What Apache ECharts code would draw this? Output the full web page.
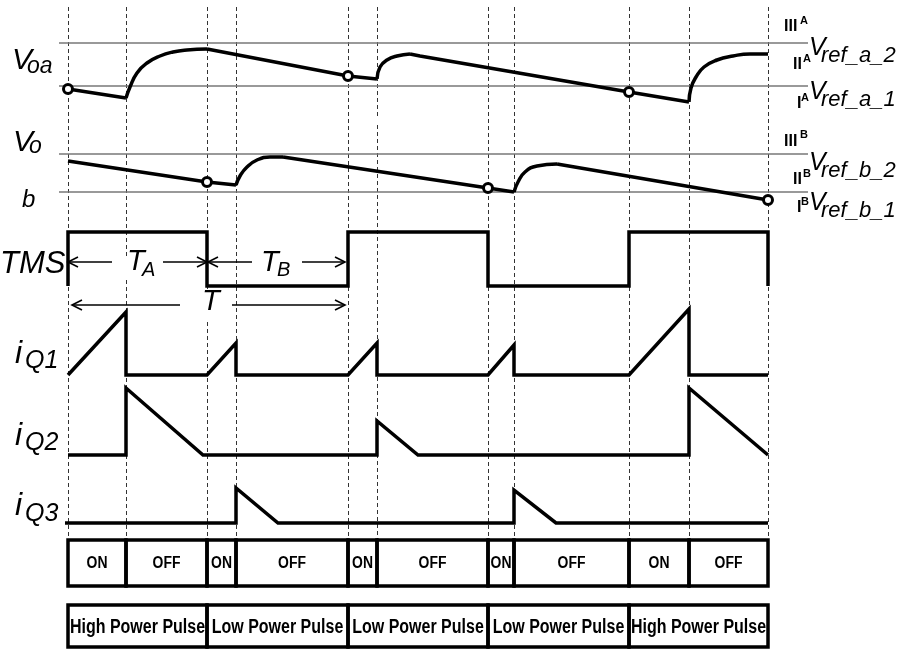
<!DOCTYPE html>
<html>
<head>
<meta charset="utf-8">
<title>TMS timing diagram</title>
<script src="https://cdn.jsdelivr.net/npm/echarts@6/dist/echarts.min.js"></script>
<style>
	html, body { margin:0; padding:0; background:#fff; }
	#chart { width:901px; height:650px; }
</style>
</head>
<body>
<div id="chart"></div>
<script>
// switching instants (time axis, same scale as the picture)
var edges = [68, 126, 207, 236, 348, 377, 488, 514, 629, 689, 768];
var switchStates = ['ON', 'OFF', 'ON', 'OFF', 'ON', 'OFF', 'ON', 'OFF', 'ON', 'OFF'];
var pulseEdges = [68, 207, 348, 488, 629, 768];
var pulseNames = ['High Power Pulse', 'Low Power Pulse', 'Low Power Pulse', 'Low Power Pulse', 'High Power Pulse'];

// reference voltage levels: Vref_a_2, Vref_a_1, Vref_b_2, Vref_b_1
var refLevels = [43, 86, 154, 192];
var refSpan = [59, 808];

// output voltages, [t, level] (level axis points down); decay = straight, charge = curved
var voaDecay = [
	[[68,89],[126,98]],
	[[207,49],[348,76],[377,79]],
	[[410,54],[420,56],[629,92],[689,102]]
];
var voaCharge = [
	[[126,98],[130,87],[137,73],[147,63],[160,56],[173,52],[187,50],[207,49]],
	[[377,79],[380,67],[387,60],[397,56],[410,54]],
	[[689,102],[691,88],[696,77],[704,67],[717,60],[733,56],[750,54],[768,54]]
];
var vobDecay = [
	[[68,161],[207,182],[236,185]],
	[[283,157],[488,188],[514,192]],
	[[557,164],[768,200]]
];
var vobCharge = [
	[[236,185],[240,176],[247,167],[257,160],[270,157],[283,157]],
	[[514,192],[518,182],[525,172],[537,166],[557,164]]
];
var voaMarks = [[68,89],[348,76],[629,92]];
var vobMarks = [[207,182],[488,188],[768,200]];

// gate signal and switch currents
var tms = [[68,286],[68,232],[207,232],[207,286],[348,286],[348,232],[488,232],[488,286],
	[629,286],[629,232],[768,232],[768,286]];
var iq1 = [[68,375],[126,312],[126,375],[207,375],[236,343],[236,375],[348,375],[377,343],[377,375],
	[488,375],[514,345],[514,375],[629,375],[689,309],[689,375],[768,375]];
var iq2 = [[68,455],[126,455],[126,388],[203,455],[377,455],[377,421],[418,455],[689,455],[689,388],[768,455]];
var iq3 = [[65,523],[236,523],[236,488],[278,523],[514,523],[514,490],[556,523],[768,523]];

// period arrows [from, to(head), level]
var arrows = [[112,68,262],[163,207,262],[252,208,262],[302,345,262],[180,72,305],[232,345,305]];

var FONT = '"Liberation Sans", Arial, sans-serif';

// dashed guide lines, with the small breaks where labels sit
var gaps = { 126: [257, 280], 207: [289, 322], 377: [116, 125] };
var guides = [];
edges.forEach(function (t) {
	if (gaps[t]) {
		guides.push([t, 7, gaps[t][0]]);
		guides.push([t, gaps[t][1], 539]);
	} else {
		guides.push([t, 7, 539]);
	}
});

function pairs(list) {
	var out = [];
	for (var i = 0; i < list.length - 1; i++) out.push([list[i], list[i + 1]]);
	return out;
}

function wave(data, smooth) {
	return {
		type: 'line', data: data, symbol: 'none', silent: true, z: 3,
		smooth: smooth || false,
		lineStyle: { color: '#000', width: 3.5, join: 'miter', cap: 'butt' }
	};
}

function boxes(names, top, bottom, size, squeeze) {
	return function (params, api) {
		var a = api.coord([api.value(0), top]);
		var b = api.coord([api.value(1), bottom]);
		return {
			type: 'group',
			children: [{
				type: 'rect',
				shape: { x: a[0], y: a[1], width: b[0] - a[0], height: b[1] - a[1] },
				style: { fill: 'none', stroke: '#000', lineWidth: 3.5 }
			}, {
				type: 'text',
				x: (a[0] + b[0]) / 2, y: (a[1] + b[1]) / 2 + 1, scaleX: squeeze,
				style: {
					text: names[params.dataIndex], font: 'bold ' + size + 'px ' + FONT, fill: '#000',
					align: 'center', verticalAlign: 'middle', textAlign: 'center', textVerticalAlign: 'middle'
				}
			}]
		};
	};
}

function label(x, y, text, font) {
	return {
		type: 'text', x: x, y: y, silent: true,
		style: {
			text: text, font: font, fill: '#000',
			align: 'left', verticalAlign: 'middle', textAlign: 'left', textVerticalAlign: 'middle'
		}
	};
}
function it(n) { return 'italic ' + n + 'px ' + FONT; }
function bd(n) { return 'bold ' + n + 'px ' + FONT; }

var labels = [
	label(12, 61, 'V', it(30)), label(27, 67, 'oa', it(23)),
	label(13, 143, 'V', it(30)), label(29, 147, 'o', it(23)),
	label(22, 200, 'b', it(24)),
	label(0, 264, 'TMS', it(31)),
	label(127, 262, 'T', it(29)), label(142, 270, 'A', it(20)),
	label(261, 263, 'T', it(29)), label(277, 270, 'B', it(20)),
	label(202, 302, 'T', it(29)),
	label(15, 354, 'i', it(32)), label(25, 361, 'Q1', it(25)),
	label(15, 436, 'i', it(32)), label(25, 443, 'Q2', it(25)),
	label(15, 506, 'i', it(32)), label(25, 514, 'Q3', it(25)),

	label(784, 27, 'III', bd(16)), label(800, 21, 'A', bd(11)),
	label(793, 65, 'II', bd(16)), label(803, 59, 'A', bd(11)),
	label(797, 104, 'I', bd(16)), label(801, 98, 'A', bd(11)),
	label(784, 142, 'III', bd(16)), label(800, 135, 'B', bd(11)),
	label(793, 180, 'II', bd(16)), label(803, 174, 'B', bd(11)),
	label(797, 208, 'I', bd(16)), label(801, 202, 'B', bd(11)),

	label(809, 48, 'V', it(25)), label(821, 56, 'ref_a_2', it(22)),
	label(809, 92, 'V', it(25)), label(821, 100, 'ref_a_1', it(22)),
	label(809, 163, 'V', it(25)), label(821, 171, 'ref_b_2', it(22)),
	label(809, 203, 'V', it(25)), label(821, 211, 'ref_b_1', it(22))
];

var waveSeries = [];
voaDecay.concat(vobDecay).forEach(function (d) { waveSeries.push(wave(d)); });
voaCharge.concat(vobCharge).forEach(function (d) { waveSeries.push(wave(d, 0.5)); });
[tms, iq1, iq2, iq3].forEach(function (d) { waveSeries.push(wave(d)); });

var chart = echarts.init(document.getElementById('chart'));
var option = {
	animation: false,
	backgroundColor: '#fff',
	grid: { left: 0, right: 0, top: 0, bottom: 0 },
	xAxis: { type: 'value', min: 0, max: 901, show: false },
	yAxis: { type: 'value', min: 0, max: 650, inverse: true, show: false },
	graphic: labels,
	series: [
		{
			// dashed switching guides
			type: 'custom', data: guides, silent: true, z: 1, encode: { x: 0, y: [1, 2] },
			renderItem: function (params, api) {
				var p0 = api.coord([api.value(0), api.value(1)]);
				var p1 = api.coord([api.value(0), api.value(2)]);
				var x = Math.round(p0[0]) + 0.5;
				return {
					type: 'line',
					shape: { x1: x, y1: p0[1], x2: x, y2: p1[1] },
					style: { stroke: '#333', lineWidth: 1, lineDash: [4, 3] }
				};
			}
		},
		{
			// reference levels
			type: 'custom', data: refLevels.map(function (v) { return [refSpan[0], refSpan[1], v]; }),
			silent: true, z: 2, encode: { x: [0, 1], y: 2 },
			renderItem: function (params, api) {
				var p0 = api.coord([api.value(0), api.value(2)]);
				var p1 = api.coord([api.value(1), api.value(2)]);
				return {
					type: 'line',
					shape: { x1: p0[0], y1: p0[1], x2: p1[0], y2: p1[1] },
					style: { stroke: '#777', lineWidth: 1.5 }
				};
			}
		}
	].concat(waveSeries, [
		{
			type: 'scatter', data: voaMarks.concat(vobMarks), symbol: 'circle', symbolSize: 9, silent: true, z: 5,
			itemStyle: { color: '#fff', borderColor: '#000', borderWidth: 3, opacity: 1 }
		},
		{
			// period arrows with open heads
			type: 'custom', data: arrows, silent: true, z: 4, encode: { x: [0, 1], y: 2 },
			renderItem: function (params, api) {
				var a = api.coord([api.value(0), api.value(2)]);
				var b = api.coord([api.value(1), api.value(2)]);
				var d = b[0] > a[0] ? -1 : 1;
				return {
					type: 'group',
					children: [{
						type: 'line', shape: { x1: a[0], y1: a[1], x2: b[0], y2: b[1] },
						style: { stroke: '#000', lineWidth: 1.6 }
					}, {
						type: 'polyline', shape: { points: [[b[0] + d * 10, b[1] - 5], [b[0], b[1]], [b[0] + d * 10, b[1] + 5]] },
						style: { stroke: '#000', lineWidth: 1.6, fill: 'none' }
					}]
				};
			}
		},
		{
			type: 'custom', data: pairs(edges), silent: true, z: 4, encode: { x: [0, 1] },
			renderItem: boxes(switchStates, 540, 586, 16, 0.87)
		},
		{
			type: 'custom', data: pairs(pulseEdges), silent: true, z: 4, encode: { x: [0, 1] },
			renderItem: boxes(pulseNames, 605, 647, 20, 0.8)
		}
	])
};
chart.setOption(option);
</script>
</body>
</html>
